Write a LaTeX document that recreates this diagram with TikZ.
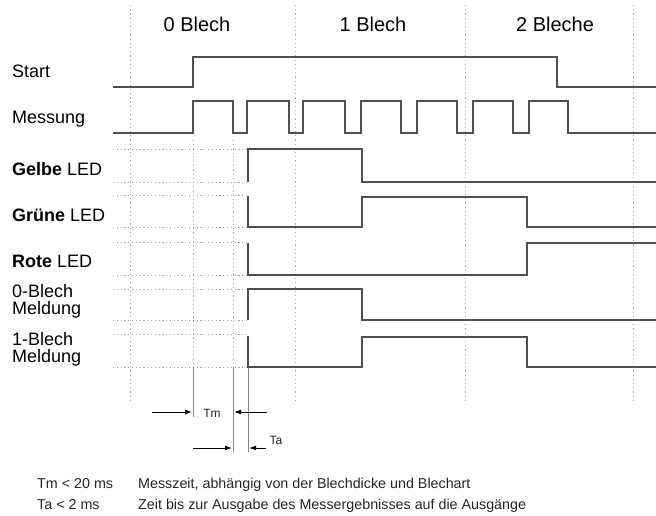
\documentclass[tikz,border=0pt]{standalone}
\usepackage{fontspec}
\setmainfont{Liberation Sans}
\usetikzlibrary{arrows.meta}
\definecolor{wave}{HTML}{505050}
\definecolor{grid}{HTML}{A8A8A8}
\tikzset{
  wv/.style={draw=wave, line width=1.7pt, line join=miter},
  gridv/.style={draw=grid, line width=0.8pt, dash pattern=on 1.2pt off 3pt},
  gridh/.style={draw=grid, line width=0.8pt, dash pattern=on 1.2pt off 2.6pt},
  guide/.style={draw=grid!80!black, line width=1pt},
  meas/.style={draw=black, line width=1pt, -{Latex[length=7pt,width=5pt]}},
  lbl/.style={anchor=base west, font=\fontsize{18}{20}\selectfont, inner sep=0pt},
  hdr/.style={anchor=base, font=\fontsize{20}{22}\selectfont, inner sep=0pt},
  small/.style={font=\fontsize{12}{14}\selectfont, inner sep=0pt, text=black!85},
  note/.style={anchor=base west, font=\fontsize{14.3}{16}\selectfont, inner sep=0pt, text=black!85}
}
\begin{document}
\begin{tikzpicture}[x=1pt,y=-1pt]
\useasboundingbox (0,0) rectangle (656,515);
\fill[white] (0,0) rectangle (656,515);
% vertical grid lines
\foreach \x in {130,295,465,633} \draw[gridv] (\x,5) -- (\x,400);
% headers
\node[hdr] (h0) at (197,31) {0 Blech};
\node[hdr] (h1) at (373,31) {1 Blech};
\node[hdr] (h2) at (555,31) {2 Bleche};
% labels
\node[lbl] (lStart) at (12,77) {Start};
\node[lbl] (lMess) at (12,123) {Messung};
\node[lbl] (lGelb) at (12,175) {\textbf{Gelbe} LED};
\node[lbl] (lGruen) at (12,221) {\textbf{Grüne} LED};
\node[lbl] (lRot) at (12,267) {\textbf{Rote} LED};
\node[lbl] (l0a) at (12,297) {0-Blech};
\node[lbl] (l0b) at (12,314) {Meldung};
\node[lbl] (l1a) at (12,345) {1-Blech};
\node[lbl] (l1b) at (12,362) {Meldung};
% undefined-state hatching on the left of outputs
\foreach \y in {149,182,195,227,242,275,289,320,334,367}
  \draw[gridh] (113,\y) -- (248,\y);
\draw[gridv] (193,140) -- (193,367);
\draw[gridv] (233,140) -- (233,367);
% guide lines to the timing arrows
\draw[guide] (193,367) -- (193,417);
\draw[guide] (233,367) -- (233,452);
\draw[guide] (248,367) -- (248,452);
% Start
\draw[wv] (113,87) -- (193,87) -- (193,57) -- (557,57) -- (557,87) -- (656,87);
% Messung
\draw[wv] (113,133) -- (193,133) -- (193,101)
  -- (233,101) -- (233,133) -- (247,133) -- (247,101)
  -- (289,101) -- (289,133) -- (303,133) -- (303,101)
  -- (345,101) -- (345,133) -- (361,133) -- (361,101)
  -- (401,101) -- (401,133) -- (417,133) -- (417,101)
  -- (457,101) -- (457,133) -- (473,133) -- (473,101)
  -- (513,101) -- (513,133) -- (529,133) -- (529,101)
  -- (568,101) -- (568,133) -- (656,133);
% Gelbe LED
\draw[wv] (248,182) -- (248,149) -- (362,149) -- (362,182) -- (656,182);
% Gruene LED
\draw[wv] (248,196) -- (248,227) -- (362,227) -- (362,197) -- (527,197) -- (527,227) -- (656,227);
% Rote LED
\draw[wv] (248,243) -- (248,275) -- (527,275) -- (527,243) -- (656,243);
% 0-Blech Meldung
\draw[wv] (248,320) -- (248,289) -- (362,289) -- (362,320) -- (656,320);
% 1-Blech Meldung
\draw[wv] (248,336) -- (248,367) -- (362,367) -- (362,337) -- (527,337) -- (527,367) -- (656,367);
% timing arrows: Tm
\coordinate (TmStart) at (152,412);
\coordinate (TmEnd) at (192,412);
\coordinate (TmStartR) at (267,412);
\coordinate (TmEndR) at (234,412);
\draw[meas] (TmStart) -- (TmEnd);
\draw[meas] (TmStartR) -- (TmEndR);
\node[small] (tmlabel) at (212,413) {Tm};
% timing arrows: Ta
\coordinate (TaStart) at (193,448);
\coordinate (TaEnd) at (232,448);
\coordinate (TaStartR) at (266,448);
\coordinate (TaEndR) at (249,448);
\draw[meas] (TaStart) -- (TaEnd);
\draw[meas] (TaStartR) -- (TaEndR);
\node[small] (talabel) at (276,440) {Ta};
% notes
\node[note] (n1a) at (37,488) {Tm < 20 ms};
\node[note] (n1b) at (138,488) {Messzeit, abhängig von der Blechdicke und Blechart};
\node[note] (n2a) at (37,509) {Ta < 2 ms};
\node[note] (n2b) at (138,509) {Zeit bis zur Ausgabe des Messergebnisses auf die Ausgänge};
\end{tikzpicture}
\end{document}
